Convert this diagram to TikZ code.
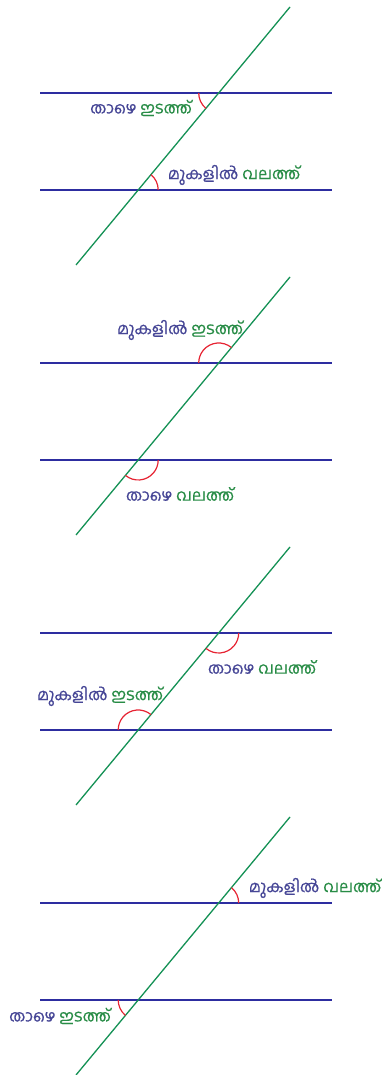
\documentclass[tikz,border=0pt]{standalone}
\usepackage{fontspec}
\newfontfamily\mlfont[Script=Malayalam,FakeBold=0.6]{Hind Kochi}
\usetikzlibrary{angles}
\definecolor{parblue}{RGB}{45,45,160}
\definecolor{transgreen}{RGB}{20,145,85}
\definecolor{angred}{RGB}{230,35,50}
\definecolor{wordblue}{RGB}{70,70,150}
\definecolor{wordgreen}{RGB}{40,140,70}
\newcommand{\thazhe}{\textcolor{wordblue}{താഴെ}}
\newcommand{\mukalil}{\textcolor{wordblue}{മുകളിൽ}}
\newcommand{\idath}{\textcolor{wordgreen}{ഇടത്ത്}}
\newcommand{\valath}{\textcolor{wordgreen}{വലത്ത്}}
\tikzset{
  parline/.style   = {draw=parblue, line width=1.5pt},
  transline/.style = {draw=transgreen, line width=1.3pt},
  angmark/.style   = {draw=angred, line width=1.2pt, angle radius=20pt},
  lbl/.style       = {font=\mlfont\fontsize{16}{18}\selectfont, inner sep=0pt},
}

\begin{document}
\begin{tikzpicture}[x=1pt, y=1pt]
\useasboundingbox (0,0) rectangle (382,1075);

%── common lines of the four panels ──────────────────────────────
\foreach \k in {1,2,3,4}{
  \pgfmathsetmacro{\b}{1075-270*(\k-1)}
  \coordinate (tL\k) at (40,\b-93);
  \coordinate (tR\k) at (332,\b-93);
  \coordinate (bL\k) at (40,\b-190);
  \coordinate (bR\k) at (332,\b-190);
  \coordinate (gB\k) at (76,\b-265);
  \coordinate (gT\k) at (290,\b-7);
  % crossing points on the transversal
  \coordinate (P\k) at (218.7,\b-93);
  \coordinate (Q\k) at (138.2,\b-190);
  \draw[parline] (tL\k) -- (tR\k);
  \draw[parline] (bL\k) -- (bR\k);
  \draw[transline] (gB\k) -- (gT\k);
}

%── (1) lower left / upper right ─────────────────────────────────
\pic[angmark] {angle = tL1--P1--gB1};
\pic[angmark] {angle = bR1--Q1--gT1};
\node[lbl] (l1a) at (141,1075-108) {\thazhe\ \idath};
\node[lbl] (l1b) at (234,1075-175) {\mukalil\ \valath};

%── (2) upper left / lower right ─────────────────────────────────
\pic[angmark] {angle = gT2--P2--tL2};
\pic[angmark] {angle = gB2--Q2--bR2};
\node[lbl] (l2a) at (180,1075-330) {\mukalil\ \idath};
\node[lbl] (l2b) at (180,1075-494) {\thazhe\ \valath};

%── (3) lower right / upper left ─────────────────────────────────
\pic[angmark] {angle = gB3--P3--tR3};
\pic[angmark] {angle = gT3--Q3--bL3};
\node[lbl] (l3a) at (262,1075-667) {\thazhe\ \valath};
\node[lbl] (l3b) at (100,1075-696) {\mukalil\ \idath};

%── (4) upper right / lower left ─────────────────────────────────
\pic[angmark] {angle = tR4--P4--gT4};
\pic[angmark] {angle = bL4--Q4--gB4};
\node[lbl] (l4a) at (315,1075-888) {\mukalil\ \valath};
\node[lbl] (l4b) at (60,1075-1016) {\thazhe\ \idath};

\end{tikzpicture}
\end{document}
